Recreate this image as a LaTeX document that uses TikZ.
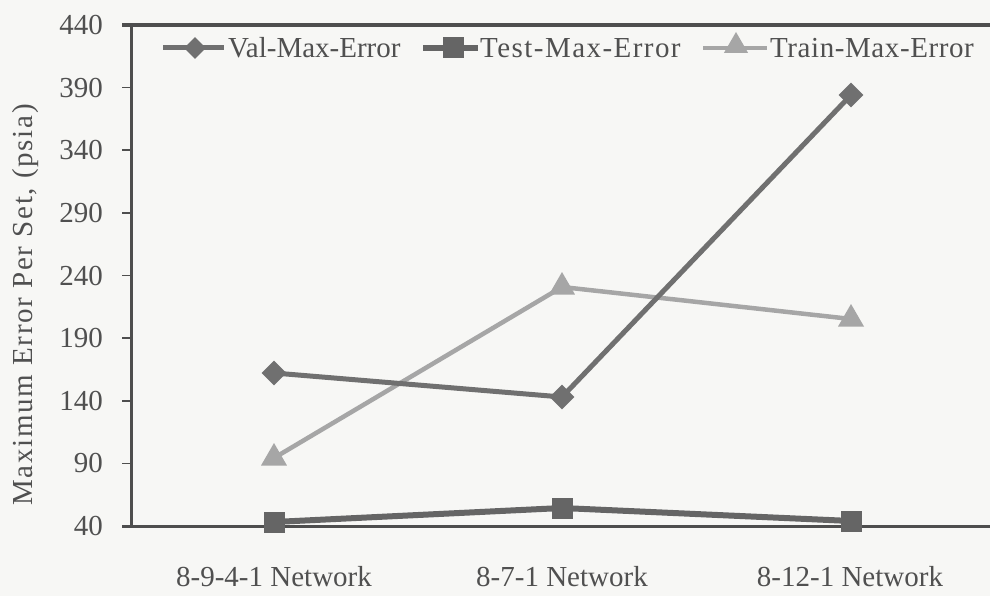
\documentclass[tikz,border=0pt]{standalone}
\usepackage{fontspec}
\setmainfont{Liberation Serif}
\usetikzlibrary{shapes.geometric}
\definecolor{bgpaper}{HTML}{F7F7F5}
\definecolor{axiscol}{HTML}{4E4E4E}
\definecolor{valcol}{HTML}{707070}
\definecolor{testcol}{HTML}{656565}
\definecolor{traincol}{HTML}{A6A6A6}
\definecolor{txtcol}{HTML}{505050}
\tikzset{
  lbl/.style={font=\fontsize{29}{34}\selectfont, text=txtcol, inner sep=0pt},
  ticklbl/.style={lbl, anchor=east},
  axisline/.style={draw=axiscol, line width=3pt},
  tickline/.style={draw=axiscol, line width=1.5pt},
  valline/.style={draw=valcol, line width=5pt},
  testline/.style={draw=testcol, line width=6pt},
  trainline/.style={draw=traincol, line width=4.5pt},
  valmark/.style={diamond, fill=valcol, minimum width=25pt, minimum height=25pt, inner sep=0pt},
  testmark/.style={rectangle, fill=testcol, minimum width=21pt, minimum height=21pt, inner sep=0pt},
  trainmark/.style={regular polygon, regular polygon sides=3, fill=traincol, minimum size=30pt, inner sep=0pt},
}
\begin{document}
\begin{tikzpicture}[x=1pt,y=-1pt]
  % canvas
  \fill[bgpaper] (0,0) rectangle (990,596);
  \useasboundingbox (0,0) rectangle (990,596);

  % axis frame
  \coordinate (tl) at (122,25);
  \coordinate (tr) at (990,25);
  \coordinate (bl) at (122,526);
  \coordinate (br) at (990,526);
  \coordinate (at) at (131,25);
  \coordinate (ab) at (131,526);
  \draw[axisline, line width=3.8pt] (tl) -- (tr);
  \draw[axisline] (bl) -- (br);
  \draw[axisline] (at) -- (ab);

  % y ticks and labels
  \foreach \v [count=\i] in {40,90,140,190,240,290,340,390,440} {
    \pgfmathsetmacro{\yy}{526-(\v-40)*1.2525}
    \coordinate (tk\i) at (122,\yy);
    \coordinate (tke\i) at (131,\yy);
    \draw[tickline] (tk\i) -- (tke\i);
    \node[ticklbl] (yl\i) at (103,\yy) {\v};
  }

  % axis title
  \node[lbl, rotate=90] (ytitle) at (26,305)
    {\addfontfeature{LetterSpace=6}Maximum Error Per Set, (psia)};

  % category labels
  \node[lbl] (c1) at (274,577) {8-9-4-1 Network};
  \node[lbl] (c2) at (562,577) {8-7-1 Network};
  \node[lbl] (c3) at (850,577) {8-12-1 Network};

  % data points
  \coordinate (v1) at (274,373);
  \coordinate (v2) at (562,397);
  \coordinate (v3) at (851,95);
  \coordinate (s1) at (274,522);
  \coordinate (s2) at (562,508);
  \coordinate (s3) at (851,521);
  \coordinate (r1) at (274,458);
  \coordinate (r2) at (562,287);
  \coordinate (r3) at (851,319);

  % series lines
  \draw[trainline] (r1) -- (r2) -- (r3);
  \draw[valline] (v1) -- (v2) -- (v3);
  \draw[testline] (s1) -- (s2) -- (s3);

  % markers
  \foreach \p in {r1,r2,r3} \node[trainmark] (m\p) at (\p) {};
  \foreach \p in {v1,v2,v3} \node[valmark] (m\p) at (\p) {};
  \foreach \p in {s1,s2,s3} \node[testmark] (m\p) at (\p) {};

  % legend
  \coordinate (lva) at (163,48);
  \coordinate (lvb) at (224,48);
  \draw[valline] (lva) -- (lvb);
  \node[valmark, minimum width=22pt, minimum height=22pt] (lvm) at (195,48) {};
  \node[lbl, anchor=west] (lvt) at (228,48) {Val-Max-Error};

  \coordinate (lsa) at (423,48);
  \coordinate (lsb) at (478,48);
  \draw[testline] (lsa) -- (lsb);
  \node[testmark] (lsm) at (453,48) {};
  \node[lbl, anchor=west] (lst) at (480,48)
    {\addfontfeature{LetterSpace=5}Test-Max-Error};

  \coordinate (lra) at (703,48);
  \coordinate (lrb) at (767,48);
  \draw[trainline] (lra) -- (lrb);
  \node[trainmark, minimum size=28pt] (lrm) at (736,46) {};
  \node[lbl, anchor=west] (lrt) at (770,48)
    {\addfontfeature{LetterSpace=2}Train-Max-Error};
\end{tikzpicture}
\end{document}
